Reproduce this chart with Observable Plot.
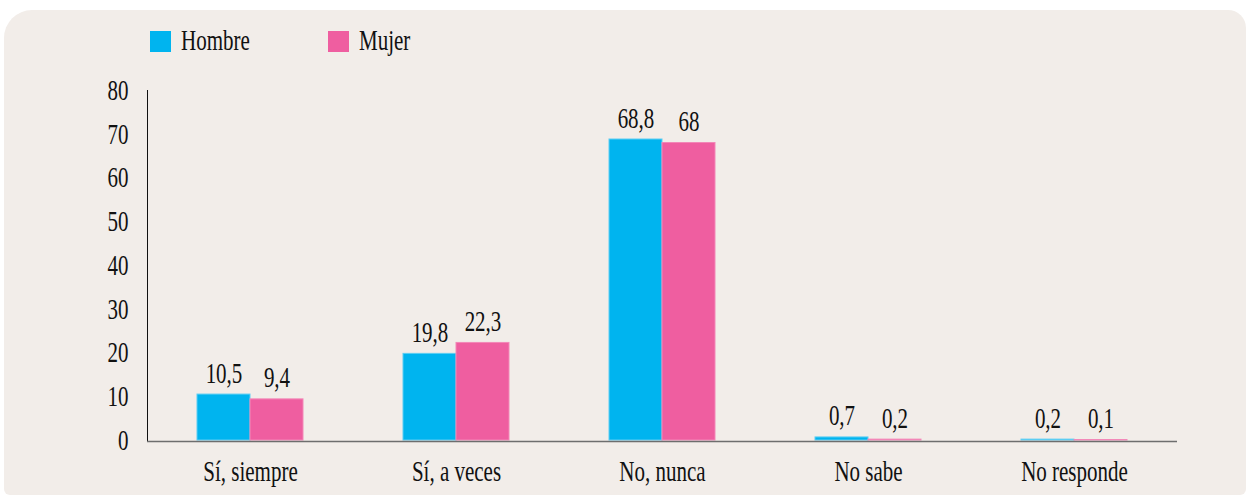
<!DOCTYPE html>
<html><head><meta charset="utf-8">
<script src="https://cdn.jsdelivr.net/npm/d3@7"></script>
<script src="https://cdn.jsdelivr.net/npm/@observablehq/plot@0.6"></script>
<style>
html,body{margin:0;padding:0;background:#fff;}
#wrap{position:relative;width:1247px;height:496px;overflow:hidden;}
#bg{position:absolute;left:4px;top:10px;width:1242px;height:485px;background:#f2ede9;border-radius:28px 18px 6px 6px;}
#chart{position:absolute;left:0;top:0;}
.leg{position:absolute;top:31px;height:21px;display:flex;align-items:center;font-family:"Liberation Serif","Times New Roman",Times,serif;font-size:21px;color:#111;}
.sw{width:21px;height:21px;margin-right:10px;flex:none;}
.lt{display:inline-block;transform:scaleY(1.38);line-height:21px;}
</style></head><body>
<div id="wrap"><div id="bg"></div><div id="chart"></div>
<div class="leg" style="left:150px"><span class="sw" style="background:#00b4ef"></span><span class="lt">Hombre</span></div>
<div class="leg" style="left:328px"><span class="sw" style="background:#ef5ea0"></span><span class="lt">Mujer</span></div>
</div>
<script>
const categories = ["Sí, siempre", "Sí, a veces", "No, nunca", "No sabe", "No responde"];
const series = ["Hombre", "Mujer"];
const hombre = [10.5, 19.8, 68.8, 0.7, 0.2];
const mujer = [9.4, 22.3, 68, 0.2, 0.1];
const yTicks = [0, 10, 20, 30, 40, 50, 60, 70, 80];
const fills = ["#00b4ef", "#ef5ea0"];
const strokes = ["#5ccdf3", "#f387b8"];

const data = categories.flatMap((c, i) => [
  {cat: c, sex: series[0], value: hombre[i]},
  {cat: c, sex: series[1], value: mujer[i]}
]);
const fmt = v => String(v).replace(".", ",");

const chart = Plot.plot({
  width: 1247, height: 496,
  marginLeft: 147, marginRight: 70, marginTop: 90, marginBottom: 56,
  style: {background: "transparent", fontFamily: "'Liberation Serif', 'Times New Roman', Times, serif", fontSize: "21px", color: "#111", overflow: "visible"},
  fx: {domain: categories, padding: 0, label: null},
  x: {domain: series, paddingInner: 0, paddingOuter: 0.93, axis: null},
  y: {domain: [0, 80], label: null},
  marks: [
    Plot.frame({anchor: "left", facetAnchor: "left", stroke: "#111"}),
    Plot.axisY({ticks: yTicks, tickSize: 0, tickPadding: 19, label: null, fill: "#111"}),
    Plot.axisFx({anchor: "bottom", tickSize: 0, tickPadding: 20, label: null, fill: "#111"}),
    ...series.map((s, k) => Plot.barY(data.filter(d => d.sex === s), {
      fx: "cat", x: "sex", y: "value", fill: fills[k], stroke: strokes[k], strokeWidth: 1
    })),
    Plot.text(data, {fx: "cat", x: "sex", y: "value", text: d => fmt(d.value), lineAnchor: "bottom", dy: -12, fill: "#111"}),
    Plot.ruleY([0], {stroke: "#6e6e6e", strokeWidth: 1.6, dy: 1})
  ]
});
chart.querySelectorAll("text").forEach(t => {
  t.style.fontFamily = "'Liberation Serif', 'Times New Roman', Times, serif";
  const tr = t.getAttribute("transform") || "";
  t.setAttribute("transform", tr + " scale(1,1.38)");
});
document.getElementById("chart").appendChild(chart);
</script>
</body></html>
